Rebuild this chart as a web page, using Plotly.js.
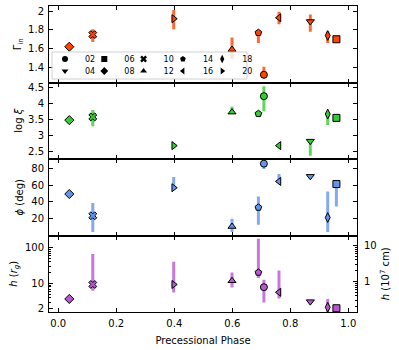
<!DOCTYPE html>
<html>
<head>
<meta charset="utf-8">
<script src="https://cdn.plot.ly/plotly-3.0.1.min.js"></script>
<style>
  body { margin: 0; background: #fff; }
  #chart { width: 399px; height: 350px; }
</style>
</head>
<body>
<div id="chart"></div>
<script>
// one entry per observation
const obsIds = ["02", "04", "06", "08", "10", "12", "14", "16", "18", "20"];
const symbols = ["circle", "triangle-down", "square", "diamond", "x",
  "triangle-up", "pentagon", "triangle-left", "diamond-tall", "triangle-right"];
const phase = [0.709, 0.869, 0.959, 0.038, 0.119, 0.599, 0.690, 0.761, 0.929, 0.398];

const gammaIn = [1.32, 1.89, 1.70, 1.62, 1.75, 1.59, 1.77, 1.93, 1.74, 1.92];
const gammaErrUp = [0.085, 0.074, 0, 0, 0.057, 0.13, 0.03, 0.064, 0.043, 0.093];
const gammaErrDn = [0.04, 0.11, 0, 0, 0.08, 0.10, 0.11, 0.07, 0.08, 0.113];

const logXi = [4.22, 2.81, 3.54, 3.47, 3.57, 3.72, 3.67, 2.67, 3.66, 2.67];
const xiErrUp = [0.31, 0.03, 0, 0, 0.22, 0.17, 0, 0, 0.08, 0.07];
const xiErrDn = [0.47, 0.46, 0, 0, 0.29, 0.05, 0, 0, 0.34, 0.08];

const phiDeg = [86.5, 71, 61.6, 49.4, 22.8, 9.7, 33, 64.8, 20.7, 57.1];
const phiErrUp = [0, 0, 0, 0, 15.6, 9.5, 13.5, 9.1, 31.9, 13.1];
const phiErrDn = [6.5, 0, 27.4, 0, 19.9, 6.8, 21.2, 0, 17.8, 2];

const hRg = [7.9, 3.13, 2.05, 3.72, 9.4, 11.9, 20.3, 5.7, 2.18, 9.4];
const hErrUp = [4.8, 0, 0, 0, 57.3, 8.4, 154.7, 17.4, 1.52, 31.2];
const hErrDn = [4.96, 0, 0, 0, 3.15, 4.2, 6.1, 1.9, 0.68, 3.8];

// 10^7 cm expressed in r_g (sets the right-hand axis)
const cmPerRg = 11.35;

const panels = [
  { y: gammaIn, up: gammaErrUp, dn: gammaErrDn, fill: "#ff4500", bar: "rgba(255,69,0,0.8)" },
  { y: logXi, up: xiErrUp, dn: xiErrDn, fill: "#32cd32", bar: "rgba(50,205,50,0.8)" },
  { y: phiDeg, up: phiErrUp, dn: phiErrDn, fill: "#6495ed", bar: "rgba(100,149,237,0.8)" },
  { y: hRg, up: hErrUp, dn: hErrDn, fill: "#ba55d3", bar: "rgba(186,85,211,0.8)" },
];

const data = panels.map((p, i) => ({
  type: "scatter",
  mode: "markers",
  x: phase,
  y: p.y,
  xaxis: i === 0 ? "x" : "x" + (i + 1),
  yaxis: i === 0 ? "y" : "y" + (i + 1),
  showlegend: false,
  hoverinfo: "skip",
  marker: { symbol: symbols, size: 7, color: p.fill, line: { color: "#000", width: 1 } },
  error_y: {
    type: "data", symmetric: false, array: p.up, arrayminus: p.dn,
    color: p.bar, thickness: 3, width: 0,
  },
}));

// empty trace so the right-hand h axis (in 10^7 cm) gets drawn
data.push({
  type: "scatter", mode: "markers", x: [null], y: [null],
  xaxis: "x4", yaxis: "y5", showlegend: false, hoverinfo: "skip",
});

// legend-only entries (black markers), one small legend each so the grid is 5 x 2
const legends = {};
obsIds.forEach((id, i) => {
  const name = i === 0 ? "legend" : "legend" + (i + 1);
  data.push({
    type: "scatter", mode: "markers", x: [null], y: [null],
    name: id, legend: name, showlegend: true,
    marker: { symbol: symbols[i], size: 6, color: "#000", line: { color: "#000", width: 0 } },
  });
  const col = Math.floor(i / 2);
  const row = i % 2;
  const px = 65 + 39.3 * col - 20;
  const py = 59 + 12 * row;
  legends[name] = {
    x: (px - 49) / 308, y: (312 - py) / 306,
    xanchor: "left", yanchor: "middle",
    bgcolor: "rgba(0,0,0,0)", borderwidth: 0,
    font: { family: "DejaVu Sans", size: 8, color: "#000" },
  };
});

const font = { family: "DejaVu Sans", size: 10, color: "#000" };
const baseAxis = {
  showline: true, linecolor: "#000", linewidth: 1,
  ticks: "inside", ticklen: 4, tickwidth: 1, tickcolor: "#000",
  showgrid: false, zeroline: false, tickfont: font,
};
const xRange = [-0.032, 1.03];
const doms = [[0.75, 1], [0.5, 0.75], [0.25, 0.5], [0, 0.25]];

const layout = Object.assign({
  width: 399, height: 350,
  margin: { l: 49, r: 42, t: 6, b: 38 },
  paper_bgcolor: "#fff", plot_bgcolor: "#fff",
  font: font,
  xaxis: Object.assign({}, baseAxis, { domain: [0, 1], anchor: "y", range: xRange, mirror: "ticks", showticklabels: false, dtick: 0.2 }),
  xaxis2: Object.assign({}, baseAxis, { domain: [0, 1], anchor: "y2", range: xRange, mirror: "ticks", showticklabels: false, dtick: 0.2 }),
  xaxis3: Object.assign({}, baseAxis, { domain: [0, 1], anchor: "y3", range: xRange, mirror: "ticks", showticklabels: false, dtick: 0.2 }),
  xaxis4: Object.assign({}, baseAxis, {
    domain: [0, 1], anchor: "y4", range: xRange, mirror: "ticks", dtick: 0.2, tickformat: ".1f",
    ticklabelstandoff: 2,
    title: { text: "Precessional Phase", font: font, standoff: 8 },
  }),
  yaxis: Object.assign({}, baseAxis, {
    domain: doms[0], anchor: "x", range: [1.237, 2.056], mirror: "ticks", dtick: 0.2,
    ticklabelstandoff: 2,
    title: { text: "Γ<sub>in</sub>", font: font, standoff: 4 },
  }),
  yaxis2: Object.assign({}, baseAxis, {
    domain: doms[1], anchor: "x2", range: [2.25, 4.65], mirror: "ticks", dtick: 0.5,
    ticklabelstandoff: 2,
    title: { text: "log <i>ξ</i>", font: font, standoff: 3 },
  }),
  yaxis3: Object.assign({}, baseAxis, {
    domain: doms[2], anchor: "x3", range: [-1.3, 92.2], mirror: "ticks", tickvals: [20, 40, 60, 80],
    ticklabelstandoff: 2,
    title: { text: "<i>ϕ</i> (deg)", font: font, standoff: 5 },
  }),
  yaxis4: Object.assign({}, baseAxis, {
    domain: doms[3], anchor: "x4", type: "log", range: [0.207, 2.336], mirror: false,
    tickvals: [2, 10, 100], ticktext: ["2", "10", "100"], ticklabelstandoff: 2,
    minor: { ticks: "inside", ticklen: 2, tickcolor: "#000", tickvals: [3, 4, 5, 6, 7, 8, 9, 20, 30, 40, 50, 60, 70, 80, 90, 200] },
    title: { text: "<i>h</i> (<i>r<sub>g</sub></i>)", font: font, standoff: 5 },
  }),
  yaxis5: Object.assign({}, baseAxis, {
    overlaying: "y4", anchor: "x4", side: "right", type: "log",
    range: [0.207 - Math.log10(cmPerRg), 2.336 - Math.log10(cmPerRg)],
    tickvals: [1, 10], ticktext: ["1", "10"], ticklabelstandoff: 4,
    minor: { ticks: "inside", ticklen: 2, tickcolor: "#000", tickvals: [0.2, 0.3, 0.4, 0.5, 0.6, 0.7, 0.8, 0.9, 2, 3, 4, 5, 6, 7, 8, 9] },
    title: { text: "<i>h</i> (10<sup>7</sup> cm)", font: font, standoff: 6 },
  }),
  shapes: [{
    type: "rect", xref: "paper", yref: "paper", layer: "above",
    x0: 3 / 308, x1: 198 / 308, y0: (312 - 79) / 306, y1: (312 - 52) / 306,
    fillcolor: "rgba(255,255,255,0.8)", line: { color: "#d0d0d0", width: 1 },
  }],
}, legends);

Plotly.newPlot("chart", data, layout, { displayModeBar: false, staticPlot: true });
</script>
</body>
</html>
